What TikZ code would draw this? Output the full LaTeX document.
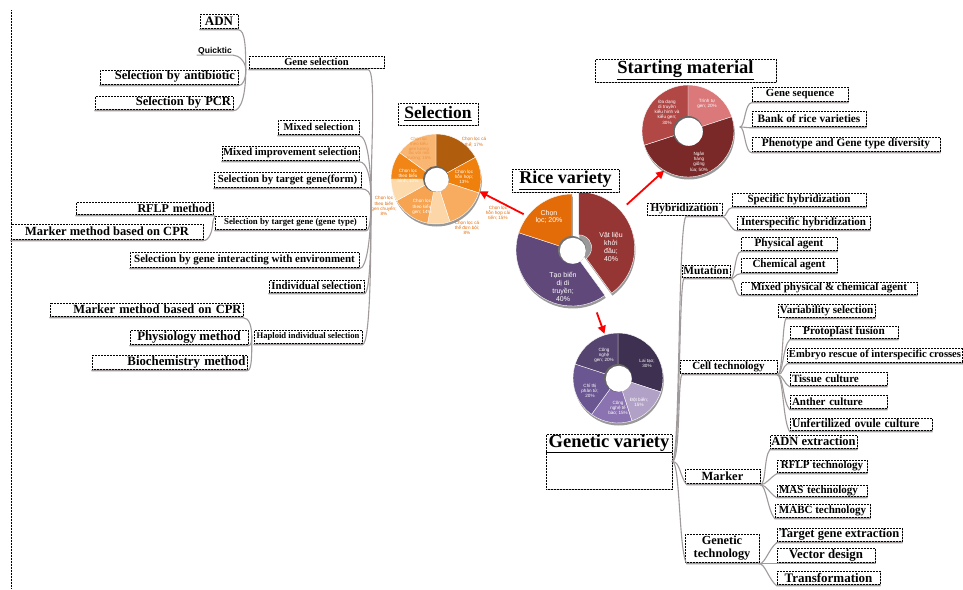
\documentclass[tikz,border=0pt]{standalone}
\usepackage{fontspec}
\setmainfont{Liberation Serif}
\newfontfamily\pief{Liberation Sans}
\usetikzlibrary{arrows.meta,shadows,calc}
\newcommand\fzz[1]{\fontsize{#1pt}{#1pt}\selectfont}
\newcommand\pfz[2]{\pief\fontsize{#1pt}{#2pt}\selectfont}
\newcommand\dslice[5]{\fill[#5, draw=white, line width=0.4pt] ({90-(#1)}:#3pt) arc[start angle={90-(#1)}, end angle={90-(#2)}, radius=#3pt] -- ({90-(#2)}:#4pt) arc[start angle={90-(#2)}, end angle={90-(#1)}, radius=#4pt] -- cycle;}
\newcommand\dshad[3]{\fill[black!40] (0.8pt,-2.5pt) -- ++({90-(#1)}:#3pt) arc[start angle={90-(#1)}, end angle={90-(#2)}, radius=#3pt] -- cycle;}
\definecolor{lnc}{RGB}{160,154,154}
\definecolor{olab}{RGB}{228,108,10}
\definecolor{olab2}{RGB}{238,146,64}
\definecolor{sa}{RGB}{176,94,14}
\definecolor{sb}{RGB}{240,128,12}
\definecolor{sc}{RGB}{248,172,96}
\definecolor{sd}{RGB}{252,214,166}
\definecolor{se}{RGB}{246,164,82}
\definecolor{sf}{RGB}{252,218,172}
\definecolor{sg}{RGB}{241,134,22}
\definecolor{sh}{RGB}{249,182,114}
\definecolor{ra}{RGB}{150,54,52}
\definecolor{rb}{RGB}{96,73,122}
\definecolor{rc}{RGB}{227,108,9}
\definecolor{ta}{RGB}{218,120,122}
\definecolor{tb}{RGB}{122,41,40}
\definecolor{tc}{RGB}{178,72,70}
\definecolor{ga}{RGB}{62,48,80}
\definecolor{gb}{RGB}{178,161,199}
\definecolor{gc}{RGB}{139,114,176}
\definecolor{gd}{RGB}{106,86,144}
\definecolor{ge}{RGB}{85,68,111}
\begin{document}
\begin{tikzpicture}[x=1pt,y=-1pt,
  bx/.style={draw=black, densely dotted, line width=0.5pt, fill=white, inner sep=0pt, font=\bfseries\fzz{#1},
    general shadow={fill=black!28, shadow xshift=1pt, shadow yshift=-1.2pt}},
  bx/.default=11,
  sz/.style n args={2}{minimum width=#1pt, minimum height=#2pt},
  rt/.style={text width=#1pt, align=right},
  lf/.style={text width=#1pt, align=left},
  cn/.style={draw=lnc, line width=1.1pt, line cap=round},
  arr/.style={draw=red, line width=1.8pt, -{Triangle[length=8pt,width=8pt]}},
  pl/.style={inner sep=0pt, align=center, text=white},
  pie/.style={circle, inner sep=0pt, minimum size=#1pt}
]
\useasboundingbox (0,0) rectangle (963,589);
\fill[white] (0,0) rectangle (963,589);
\draw[densely dotted, line width=0.5pt] (11,10) -- (11,589);

% ---------------- pies ----------------
% Selection pie
\node[pie=90] (pieSel) at (436,179) {};
\begin{scope}[shift={(436,179)}]
  \fill[black!40] (0.8pt,-2.5pt) circle[radius=45pt];
  \dslice{0}{61.2}{45}{12}{sa}
  \dslice{61.2}{108}{45}{12}{sb}
  \dslice{108}{162}{45}{12}{sc}
  \dslice{162}{190.8}{45}{12}{sd}
  \dslice{190.8}{241.2}{45}{12}{se}
  \dslice{241.2}{270}{45}{12}{sf}
  \dslice{270}{306}{45}{12}{sg}
  \dslice{306}{360}{45}{12}{sh}
  \fill[black!60] (0,0) circle[radius=13pt];
  \fill[white] (0.8pt,-0.8pt) circle[radius=12pt];
\end{scope}
% Rice variety pie
\node[pie=114] (pieRice) at (572,250) {};
\begin{scope}[shift={(572,250)}]
  \dshad{144}{360}{56}
  \begin{scope}[shift={(18:7pt)}]
    \dshad{0}{144}{56}
    \dslice{0}{144}{56}{13}{ra}
  \end{scope}
  \dslice{144}{288}{56}{13}{rb}
  \dslice{288}{360}{56}{13}{rc}
  \fill[black!55] (0,0) circle[radius=14pt];
  \fill[white] (0.8pt,-0.8pt) circle[radius=13pt];
\end{scope}
% Starting material pie
\node[pie=92] (pieStart) at (688,131) {};
\begin{scope}[shift={(688,131)}]
  \fill[black!40] (0.8pt,-2.5pt) circle[radius=46pt];
  \dslice{0}{72}{46}{14}{ta}
  \dslice{72}{252}{46}{14}{tb}
  \dslice{252}{360}{46}{14}{tc}
  \fill[black!60] (0,0) circle[radius=15pt];
  \fill[white] (0.8pt,-0.8pt) circle[radius=14pt];
\end{scope}
% Genetic variety pie
\node[pie=90] (pieGen) at (618,378) {};
\begin{scope}[shift={(618,378)}]
  \fill[black!40] (0.8pt,-2.5pt) circle[radius=45pt];
  \dslice{0}{108}{45}{13}{ga}
  \dslice{108}{162}{45}{13}{gb}
  \dslice{162}{216}{45}{13}{gc}
  \dslice{216}{288}{45}{13}{gd}
  \dslice{288}{360}{45}{13}{ge}
  \fill[black!60] (0,0) circle[radius=14pt];
  \fill[white] (0.8pt,-0.8pt) circle[radius=13pt];
\end{scope}

% pie labels
\node[pl, text=olab, font=\pfz{4.6}{5.2}] (ls1) at (474,142) {Chọn lọc cá\\thể; 17\%};
\node[pl, font=\pfz{4.6}{5.2}] (ls2) at (464,177) {Chọn lọc\\hỗn hợp;\\13\%};
\node[pl, text=olab, font=\pfz{4.6}{5.2}] (ls3) at (498,213) {Chọn lọc\\hỗn hợp cải\\tiến; 15\%};
\node[pl, text=olab, font=\pfz{4.6}{5.2}] (ls4) at (467,228) {Chọn lọc cá\\thể đơn bội;\\8\%};
\node[pl, font=\pfz{4.6}{5.2}] (ls5) at (422,207) {Chọn lọc\\theo kiểu\\gen; 14\%};
\node[pl, text=olab, font=\pfz{4.6}{5.2}] (ls6) at (384,206) {Chọn lọc\\theo biến\\gen chuyển;\\8\%};
\node[pl, font=\pfz{4.6}{5.2}] (ls7) at (408,176) {Chọn lọc\\theo biểu\\hình; 10\%};
\node[pl, text=olab2, font=\pfz{4.3}{4.8}] (ls8) at (419,149) {Chọn lọc\\theo kiểu\\gen tương\\tác với môi\\trường; 15\%};

\node[pl, font=\pfz{7}{7.8}] (lr1) at (611,247) {Vật liệu\\khởi\\đầu;\\40\%};
\node[pl, font=\pfz{7}{7.8}] (lr2) at (563,287) {Tạo biến\\dị di\\truyền;\\40\%};
\node[pl, font=\pfz{7}{7.8}] (lr3) at (549,217) {Chọn\\lọc; 20\%};

\node[pl, font=\pfz{4.6}{5.2}] (lt1) at (707,104) {Trình tự\\gen; 20\%};
\node[pl, font=\pfz{4.6}{5.2}] (lt2) at (699,162) {Ngân\\hàng\\giống\\lúa; 50\%};
\node[pl, font=\pfz{4.6}{5.2}] (lt3) at (667,112) {Đa dạng\\di truyền\\kiểu hình và\\kiểu gen;\\30\%};

\node[pl, font=\pfz{4.6}{5.2}] (lg1) at (647,363) {Lai tạo;\\30\%};
\node[pl, font=\pfz{4.6}{5.2}] (lg2) at (639,402) {Đột biến;\\15\%};
\node[pl, font=\pfz{4.6}{5.2}] (lg3) at (618,408) {Công\\nghệ tế\\bào; 15\%};
\node[pl, font=\pfz{4.6}{5.2}] (lg4) at (590,391) {Chỉ thị\\phân tử;\\20\%};
\node[pl, font=\pfz{4.6}{5.2}] (lg5) at (604,355) {Công\\nghệ\\gen; 20\%};

% ---------------- titles ----------------
\node[bx=17.5, sz={80}{22}] (tsel) at (438,114) {\underline{Selection}};
\node[bx=18, sz={107}{23}] (trice) at (565.5,180.5) {\underline{Rice variety}};
\node[bx=18.5, sz={181}{23}] (tstart) at (685.5,70.5) {\underline{Starting material}};
\node[bx, sz={126}{55}] (gvbox) at (609,461.5) {};
\node[inner sep=0pt, font=\bfseries\fzz{18.5}, anchor=north] (gvt) at ([yshift=-1pt]gvbox.north) {Genetic variety};
\draw[line width=0.8pt] ([yshift=-19pt]gvbox.north west) -- ([yshift=-19pt]gvbox.north east);

% ---------------- left tree ----------------
\node[bx=13, sz={38}{14}] (adn) at (219,21) {ADN};
\node[inner sep=1pt, font=\pief\bfseries\fzz{8.5}] (qt) at (215,51) {Quicktic};
\node[bx=12.5, sz={138}{14}, rt=132] (anti) at (169,77) {Selection by antibiotic};
\node[bx=12.5, sz={138}{13}, rt=134] (pcr) at (164,102.5) {Selection by PCR};
\node[bx=10.5, sz={135}{12}] (gsel) at (316.5,62) {Gene selection};
\node[bx=10.5, sz={81}{14}] (mixs) at (318.5,127) {Mixed selection};
\node[bx=10.7, sz={137}{14}] (mimp) at (290.5,153) {Mixed improvement selection};
\node[bx=10.8, sz={147}{15}] (form) at (287.5,179.5) {Selection by target gene(form)};
\node[bx=8.8, sz={151}{13}] (gtype) at (290.5,222.5) {Selection by target gene (gene type)};
\node[bx=12, sz={137}{12}, rt=134] (rflp) at (144.5,208) {RFLP method};
\node[bx=12.5, sz={192}{15}] (cpr1) at (107,231.5) {Marker method based on CPR};
\node[bx=11, sz={229}{15}] (env) at (244.5,259.5) {Selection by gene interacting with environment};
\node[bx=10.8, sz={95}{12}] (indiv) at (316.5,286) {Individual selection};
\node[bx=12.5, sz={193}{13}, rt=190] (cpr2) at (146.5,309.5) {Marker method based on CPR};
\node[bx=8.6, sz={108}{13}] (hap) at (308,336.5) {Haploid individual selection};
\node[bx=12.8, sz={118}{14}] (phys) at (189,337) {Physiology method};
\node[bx=12.8, sz={155}{14}, rt=152] (bio) at (169.5,362) {Biochemistry method};

\coordinate (selroot) at (371,200);
\draw[cn] ([yshift=-1.5pt]gsel.south west) -- ([xshift=-16pt,yshift=-1.5pt]gsel.south east) .. controls +(8,0) and +(0,-50) .. (selroot);
\draw[cn] ([yshift=-1.5pt]mixs.south west) -- ([yshift=-1.5pt]mixs.south east) .. controls +(8,0) and +(0,-35) .. (selroot);
\draw[cn] ([yshift=-1.5pt]mimp.south west) -- ([yshift=-1.5pt]mimp.south east) .. controls +(8,0) and +(0,-22) .. (selroot);
\draw[cn] ([yshift=-1.5pt]form.south west) -- ([yshift=-1.5pt]form.south east) .. controls +(6,0) and +(0,-7) .. (selroot);
\draw[cn] ([yshift=-1.5pt]gtype.south west) -- ([yshift=-1.5pt]gtype.south east) .. controls +(4,0) and +(0,14) .. (selroot);
\draw[cn] ([yshift=-1.5pt]env.south west) -- ([yshift=-1.5pt]env.south east) .. controls +(8,0) and +(0,35) .. (selroot);
\draw[cn] ([yshift=-1.5pt]indiv.south west) -- ([yshift=-1.5pt]indiv.south east) .. controls +(6,0) and +(0,45) .. (selroot);
\draw[cn] ([yshift=-1.5pt]hap.south west) -- ([yshift=-1.5pt]hap.south east) .. controls +(8,0) and +(0,60) .. (selroot);

\draw[cn] ([yshift=-1.5pt]adn.south west) -- ([yshift=-1.5pt]adn.south east) .. controls +(7,0) and +(0,-22) .. ([xshift=-3pt,yshift=-1.5pt]gsel.south west);
\draw[cn] ([yshift=1pt]qt.south west) -- ([yshift=1pt]qt.south east) .. controls +(6,0) and +(0,-8) .. ([xshift=-3pt,yshift=-1.5pt]gsel.south west);
\draw[cn] ([yshift=-1.5pt]anti.south west) -- ([yshift=-1.5pt]anti.south east) .. controls +(5,0) and +(0,9) .. ([xshift=-3pt,yshift=-1.5pt]gsel.south west);
\draw[cn] ([yshift=-1.5pt]pcr.south west) -- ([yshift=-1.5pt]pcr.south east) .. controls +(8,0) and +(0,25) .. ([xshift=-3pt,yshift=-1.5pt]gsel.south west);

\draw[cn] ([yshift=-1.5pt]rflp.south west) -- ([yshift=-1.5pt]rflp.south east) .. controls +(4,0) and +(0,-4) .. ([xshift=-2pt]gtype.west);
\draw[cn] ([yshift=-1.5pt]cpr1.south west) -- ([yshift=-1.5pt]cpr1.south east) .. controls +(6,0) and +(0,8) .. ([xshift=-2pt]gtype.west);

\draw[cn] ([yshift=-1.5pt]cpr2.south west) -- ([yshift=-1.5pt]cpr2.south east) .. controls +(6,0) and +(0,-10) .. ([xshift=-2pt]hap.west);
\draw[cn] ([yshift=-1.5pt]phys.south west) -- ([yshift=-1.5pt]phys.south east) .. controls +(3,0) and +(0,5) .. ([xshift=-2pt]hap.west);
\draw[cn] ([yshift=-1.5pt]bio.south west) -- ([yshift=-1.5pt]bio.south east) .. controls +(5,0) and +(0,16) .. ([xshift=-2pt]hap.west);

% ---------------- right tree ----------------
\node[bx=10.8, sz={96}{14}] (gseq) at (800,94) {Gene sequence};
\node[bx=11.3, sz={114}{15}] (bank) at (809,118.5) {Bank of rice varieties};
\node[bx=11.3, sz={188}{14}] (pheno) at (846,144) {Phenotype and Gene type diversity};
\node[bx=11.3, sz={75}{12}] (hyb) at (684.5,209) {Hybridization};
\node[bx=11, sz={134}{13}] (spec) at (799,199.5) {Specific hybridization};
\node[bx=11, sz={133}{13}] (inter) at (803.5,222.5) {Interspecific hybridization};
\node[bx=11.3, sz={48}{12}] (mut) at (706,271) {Mutation};
\node[bx=11.2, sz={96}{13}] (physa) at (789,243.5) {Physical agent};
\node[bx=11, sz={96}{14}] (chem) at (789,265) {Chemical agent};
\node[bx=11, sz={176}{12}] (mixpc) at (829,288) {Mixed physical \& chemical agent};
\node[bx=11, sz={97}{13}] (cell) at (728.5,366.5) {Cell technology};
\node[bx=11, sz={97}{13}] (varsel) at (826.5,310.5) {Variability selection};
\node[bx=11.2, sz={108}{12}] (proto) at (844,332) {Protoplast fusion};
\node[bx=10.6, sz={175}{14}] (embryo) at (875,355) {Embryo rescue of interspecific crosses};
\node[bx=11, sz={97}{13}, lf=93] (tissue) at (838.5,378.5) {Tissue culture};
\node[bx=11, sz={97}{13}, lf=93] (anther) at (838.5,401.5) {Anther culture};
\node[bx=11.5, sz={142}{12}, lf=138] (unfert) at (861,424) {Unfertilized ovule culture};
\node[bx=12.5, sz={87}{13}] (adnx) at (813.5,441.5) {ADN extraction};
\node[bx=11, sz={90}{12}] (rflpt) at (822,466) {RFLP technology};
\node[bx=11, sz={90}{11}, lf=86] (mas) at (822,490.5) {MAS technology};
\node[bx=11, sz={95}{13}] (mabc) at (822.5,510.5) {MABC technology};
\node[bx=12.5, sz={75}{14}] (mark) at (722.5,476) {Marker};
\node[bx, sz={74}{28}, font=\bfseries\fontsize{12.3pt}{13.5pt}\selectfont, align=center] (gtech) at (722,548) {Genetic\\technology};
\node[bx=12.5, sz={125}{13}] (target) at (839.5,534.5) {Target gene extraction};
\node[bx=12.8, sz={98}{14}] (vector) at (826,555) {Vector design};
\node[bx=13, sz={103}{13}] (transf) at (828.5,577.5) {Transformation};

% starting material bracket
\draw[cn] ([xshift=6pt]pieStart.5) .. controls +(5,0) and +(-7,0) .. ([yshift=-1.5pt]gseq.south west) -- ([yshift=-1.5pt]gseq.south east);
\draw[cn] ([xshift=6pt]pieStart.5) .. controls +(5,0) and +(-7,0) .. ([yshift=-1.5pt]bank.south west) -- ([yshift=-1.5pt]bank.south east);
\draw[cn] ([xshift=6pt]pieStart.5) .. controls +(5,0) and +(-7,0) .. ([yshift=-1.5pt]pheno.south west) -- ([yshift=-1.5pt]pheno.south east);

% trunk from Genetic variety
\draw[cn] (gvbox.east) .. controls +(8,0) and +(-8,13) .. ([xshift=39pt,yshift=-1.5pt]hyb.south west) -- ([yshift=-1.5pt]hyb.south east);
\draw[cn] (gvbox.east) .. controls +(8,0) and +(-5,10) .. ([xshift=2pt,yshift=-1.5pt]mut.south west) -- ([yshift=-1.5pt]mut.south east);
\draw[cn] (gvbox.east) .. controls +(8,0) and +(-4,8) .. ([xshift=2pt,yshift=-1.5pt]cell.south west) -- ([yshift=-1.5pt]cell.south east);
\draw[cn] (gvbox.east) .. controls +(8,0) and +(-7,-8) .. ([xshift=2pt,yshift=-1.5pt]mark.south west) -- ([yshift=-1.5pt]mark.south east);
\draw[cn] (gvbox.east) .. controls +(8,0) and +(-8,-12) .. ([xshift=2pt,yshift=-1.5pt]gtech.south west) -- ([yshift=-1.5pt]gtech.south east);

% hybridization
\draw[cn] ([yshift=-1.5pt]hyb.south east) .. controls +(5,0) and +(-5,0) .. ([yshift=-1.5pt]spec.south west) -- ([yshift=-1.5pt]spec.south east);
\draw[cn] ([yshift=-1.5pt]hyb.south east) .. controls +(5,0) and +(-6,0) .. ([yshift=-1.5pt]inter.south west) -- ([yshift=-1.5pt]inter.south east);
% mutation
\draw[cn] ([yshift=-1.5pt]mut.south east) .. controls +(5,0) and +(-6,0) .. ([yshift=-1.5pt]physa.south west) -- ([yshift=-1.5pt]physa.south east);
\draw[cn] ([yshift=-1.5pt]mut.south east) .. controls +(5,0) and +(-6,0) .. ([yshift=-1.5pt]chem.south west) -- ([yshift=-1.5pt]chem.south east);
\draw[cn] ([yshift=-1.5pt]mut.south east) .. controls +(5,0) and +(-6,0) .. ([yshift=-1.5pt]mixpc.south west) -- ([yshift=-1.5pt]mixpc.south east);
% cell technology
\draw[cn] ([yshift=-1.5pt]cell.south east) .. controls +(6,0) and +(-4,10) .. ([xshift=8pt,yshift=-1.5pt]varsel.south west) -- ([yshift=-1.5pt]varsel.south east);
\draw[cn] ([yshift=-1.5pt]cell.south east) .. controls +(6,0) and +(-7,6) .. ([yshift=-1.5pt]proto.south west) -- ([yshift=-1.5pt]proto.south east);
\draw[cn] ([yshift=-1.5pt]cell.south east) .. controls +(6,0) and +(-5,3) .. ([yshift=-1.5pt]embryo.south west) -- ([yshift=-1.5pt]embryo.south east);
\draw[cn] ([yshift=-1.5pt]cell.south east) .. controls +(6,0) and +(-7,-4) .. ([yshift=-1.5pt]tissue.south west) -- ([yshift=-1.5pt]tissue.south east);
\draw[cn] ([yshift=-1.5pt]cell.south east) .. controls +(6,0) and +(-7,-8) .. ([yshift=-1.5pt]anther.south west) -- ([yshift=-1.5pt]anther.south east);
\draw[cn] ([yshift=-1.5pt]cell.south east) .. controls +(6,0) and +(-7,-10) .. ([yshift=-1.5pt]unfert.south west) -- ([yshift=-1.5pt]unfert.south east);
% marker
\draw[cn] ([yshift=-1.5pt]mark.south east) .. controls +(6,0) and +(-6,8) .. ([yshift=-1.5pt]adnx.south west) -- ([yshift=-1.5pt]adnx.south east);
\draw[cn] ([yshift=-1.5pt]mark.south east) .. controls +(6,0) and +(-7,4) .. ([yshift=-1.5pt]rflpt.south west) -- ([yshift=-1.5pt]rflpt.south east);
\draw[cn] ([yshift=-1.5pt]mark.south east) .. controls +(6,0) and +(-7,-4) .. ([yshift=-1.5pt]mas.south west) -- ([yshift=-1.5pt]mas.south east);
\draw[cn] ([yshift=-1.5pt]mark.south east) .. controls +(6,0) and +(-7,-8) .. ([yshift=-1.5pt]mabc.south west) -- ([yshift=-1.5pt]mabc.south east);
% genetic technology
\draw[cn] ([yshift=-1.5pt]gtech.south east) .. controls +(6,0) and +(-8,6) .. ([yshift=-1.5pt]target.south west) -- ([yshift=-1.5pt]target.south east);
\draw[cn] ([yshift=-1.5pt]gtech.south east) .. controls +(6,0) and +(-8,0) .. ([yshift=-1.5pt]vector.south west) -- ([yshift=-1.5pt]vector.south east);
\draw[cn] ([yshift=-1.5pt]gtech.south east) .. controls +(6,0) and +(-8,-6) .. ([yshift=-1.5pt]transf.south west) -- ([yshift=-1.5pt]transf.south east);

% ---------------- red arrows ----------------
\draw[arr, shorten <=3pt] (pieRice.143) -- (pieSel.-16);
\draw[arr, shorten <=14pt] (pieRice.39) -- (pieStart.239);
\draw[arr, shorten <=10pt, shorten >=1pt] (pieRice.-68) -- (pieGen.107);
\end{tikzpicture}
\end{document}
